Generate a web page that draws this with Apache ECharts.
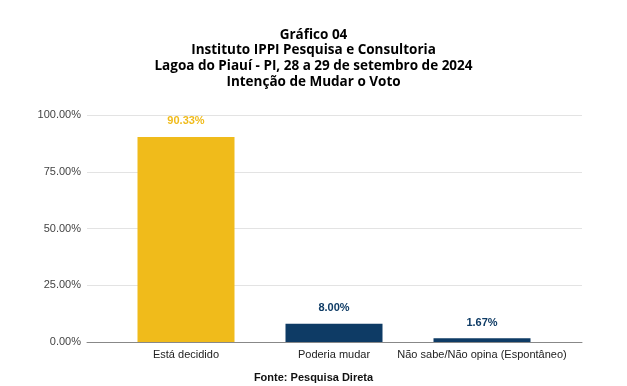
<!DOCTYPE html>
<html><head><meta charset="utf-8">
<script src="https://cdn.jsdelivr.net/npm/echarts@6/dist/echarts.min.js"></script>
<style>html,body{margin:0;padding:0;background:#fff}#c{width:627px;height:386px}</style>
</head><body><div id="c"></div>
<script>
const categories = ['Está decidido', 'Poderia mudar', 'Não sabe/Não opina (Espontâneo)'];
const values = [90.33, 8.00, 1.67];
const barColors = ['#F0BB1B', '#0E3B65', '#0E3B65'];
const yTicks = [0, 25, 50, 75, 100];
const titleLines = ['Gráfico 04', 'Instituto IPPI Pesquisa e Consultoria', 'Lagoa do Piauí - PI, 28 a 29 de setembro de 2024', 'Intenção de Mudar o Voto'];
const source = 'Fonte: Pesquisa Direta';

const chart = echarts.init(document.getElementById('c'));
chart.setOption({
  backgroundColor: '#fff',
  animation: false,
  title: [{
    text: titleLines.join('\n'), left: 'center', top: 22,
    textStyle: { fontFamily: 'Open Sans', fontWeight: 'bold', fontSize: 13.5, lineHeight: 15.7, color: '#000' }
  }, {
    text: source, left: 'center', top: 367,
    textStyle: { fontFamily: 'Liberation Sans', fontWeight: 'bold', fontSize: 11, color: '#111' }
  }],
  grid: [
    { left: 87, right: 45, top: 115, bottom: 44 },
    { left: 112, right: 71, top: 115, bottom: 44 }
  ],
  xAxis: [
    { gridIndex: 0, type: 'category', data: [''], axisLine: { lineStyle: { color: '#888', width: 1 } }, axisTick: { show: false }, axisLabel: { show: false } },
    { gridIndex: 1, type: 'category', data: categories, axisLine: { show: false }, axisTick: { show: false },
      axisLabel: { interval: 0, fontFamily: 'Liberation Sans', fontSize: 11, color: '#222', margin: 7 } }
  ],
  yAxis: [
    { gridIndex: 0, type: 'value', min: 0, max: 100, interval: 25,
      axisLabel: { fontFamily: 'Liberation Sans', fontSize: 11, color: '#444', margin: 6, formatter: v => v.toFixed(2) + '%' },
      splitLine: { lineStyle: { color: '#e3e3e3' } }, axisLine: { show: false }, axisTick: { show: false } },
    { gridIndex: 1, type: 'value', min: 0, max: 100, show: false, splitLine: { show: false } }
  ],
  series: [{
    type: 'bar', xAxisIndex: 1, yAxisIndex: 1, barWidth: 97,
    data: values.map((v, i) => ({ value: v, itemStyle: { color: barColors[i] },
      label: { color: barColors[i] } })),
    label: { show: true, position: 'top', distance: 10, fontFamily: 'Liberation Sans', fontWeight: 'bold', fontSize: 11,
      formatter: p => p.value.toFixed(2) + '%' }
  }]
});
</script></body></html>
